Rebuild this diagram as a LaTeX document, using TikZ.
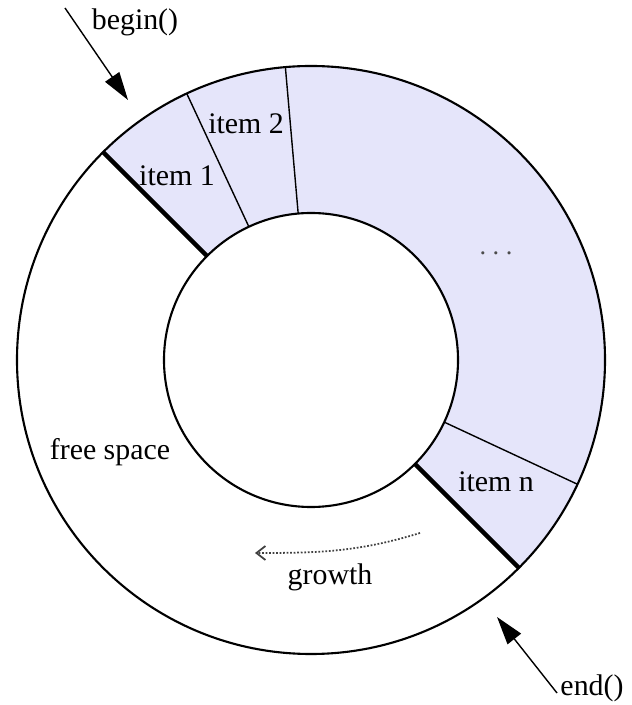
\documentclass[tikz,border=0pt]{standalone}
\usepackage{fontspec}
\setmainfont{Liberation Serif}
\usepackage{tikz}
\usetikzlibrary{calc,arrows.meta,positioning}
\definecolor{itemfill}{RGB}{229,229,250}
\tikzset{
    ring line/.style={draw,line width=1.2pt},
    item border/.style={draw,line width=0.8pt},
    end border/.style={draw,line width=2.6pt},
    ring label/.style={
        inner sep=1pt,
        font=\fontsize{17}{20}\selectfont
    },
    pointer/.style={
        line width=0.8pt,
        -{Triangle[length=0.56cm,width=0.34cm]}
    },
    growth arrow/.style={
        densely dotted,line width=1pt,gray!50!black,
        -{Straight Barb[length=0.18cm,width=0.28cm]}
    }
}

\begin{document}
\begin{tikzpicture}
\useasboundingbox (-6.22,-6.90) rectangle (6.40,7.20);
\def\outerR{5.88}
\def\innerR{2.94}
% used part of the buffer
\fill[itemfill] (135:\outerR) arc (135:-45:\outerR) -- (-45:\innerR) arc (-45:135:\innerR) -- cycle;
\draw[ring line] (0,0) circle (\outerR);
\draw[ring line] (0,0) circle (\innerR);
\foreach \a in {115,95,-25}
    \draw[item border] (\a:\innerR) -- (\a:\outerR);
\foreach \a in {135,-45}
    \draw[end border] (\a:\innerR) -- (\a:\outerR);
% labels
\node[ring label] (item_1) at (-2.68,3.68) {item 1};
\node[ring label] (item_2) at (-1.30,4.72) {item 2};
\node[ring label,font=\fontsize{15}{17}\selectfont,gray!60!black,anchor=base] (dots) at (3.70,2.10) {.\ .\ .};
\node[ring label] (item_n) at (3.70,-2.44) {item n};
\node[ring label] (free) at (-4.02,-1.84) {free space};
\node[ring label] (growth) at (0.38,-4.34) {growth};
% begin() and end()
\coordinate (begin_tail) at (-4.92,7.04);
\coordinate (begin_tip) at (-3.66,5.20);
\coordinate (end_tail) at (4.92,-6.66);
\coordinate (end_tip) at (3.72,-5.14);
\node[ring label] (begin) at (-3.52,6.76) {begin()};
\node[ring label] (end) at (5.62,-6.56) {end()};
\draw[pointer] (begin_tail) -- (begin_tip);
\draw[pointer] (end_tail) -- (end_tip);
\coordinate (grow_from) at (2.18,-3.46);
\coordinate (grow_to) at (-1.12,-3.86);
\draw[growth arrow] (grow_from) to[out=197,in=0] (grow_to);
\end{tikzpicture}
\end{document}
